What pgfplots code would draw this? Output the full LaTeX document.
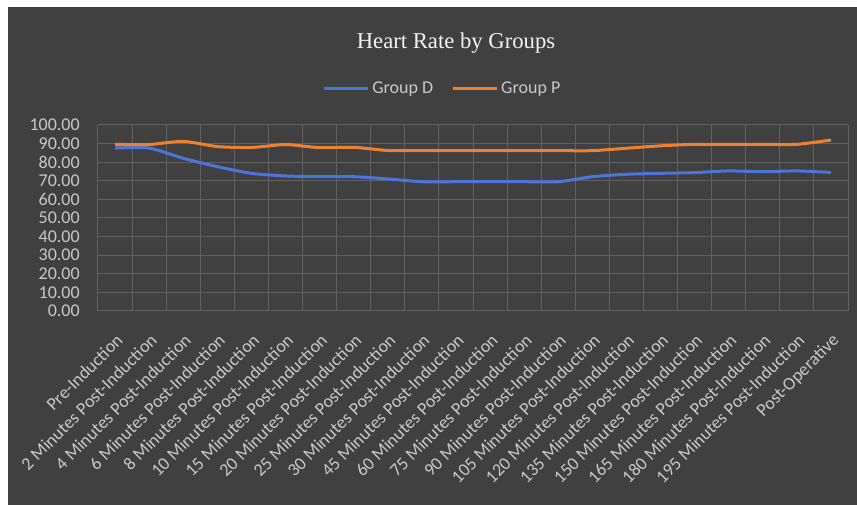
\documentclass[border=0pt]{standalone}
\usepackage{pgfplots}
\pgfplotsset{compat=1.18}
\usepackage{fontspec}
\setmainfont{Carlito}
\newfontfamily\titlefont{Liberation Serif}
\definecolor{bg}{HTML}{404040}
\definecolor{gridc}{HTML}{626262}
\definecolor{lbl}{HTML}{C8C8C8}
\definecolor{dblue}{HTML}{4D74DC}
\definecolor{porange}{HTML}{EF8030}
\begin{document}
\begin{tikzpicture}
\fill[white] (-73.5pt,-145.5pt) rectangle (569.25pt,233.25pt);
\fill[bg] (-67.5pt,-145.5pt) rectangle (569.25pt,228pt);
\begin{axis}[
  at={(0pt,0pt)}, anchor=south west,
  scale only axis, width=562.5pt, height=139.5pt,
  xmin=-0.5, xmax=21.5, ymin=0, ymax=100,
  xtick={0,...,21},
  xticklabels={Pre-Induction,2 Minutes Post-Induction,4 Minutes Post-Induction,6 Minutes Post-Induction,8 Minutes Post-Induction,10 Minutes Post-Induction,15 Minutes Post-Induction,20 Minutes Post-Induction,25 Minutes Post-Induction,30 Minutes Post-Induction,45 Minutes Post-Induction,60 Minutes Post-Induction,75 Minutes Post-Induction,90 Minutes Post-Induction,105 Minutes Post-Induction,120 Minutes Post-Induction,135 Minutes Post-Induction,150 Minutes Post-Induction,165 Minutes Post-Induction,180 Minutes Post-Induction,195 Minutes Post-Induction,Post-Operative},
  minor xtick={-0.5,0.5,...,21.5},
  ytick={0,10,...,100},
  xminorgrids=true, xmajorgrids=false, ymajorgrids=true,
  grid style={gridc, line width=0.75pt},
  minor grid style={gridc, line width=0.75pt},
  axis line style={draw=none},
  tick style={draw=none},
  major tick length=0pt, minor tick length=0pt,
  xticklabel style={rotate=45, anchor=north east, inner sep=0pt, font=\fontsize{13.5}{14}\selectfont, text=lbl},
  xticklabel shift=16pt,
  yticklabel style={anchor=east, inner sep=0pt, font=\fontsize{13.5}{14}\selectfont, text=lbl},
  yticklabel shift=13.5pt,
  /pgf/number format/fixed,
  /pgf/number format/fixed zerofill,
  /pgf/number format/precision=2,
  /pgf/number format/assume math mode=true,
  legend style={at={(axis description cs:0.46,1.195)}, anchor=center, draw=none, fill=none, text=lbl, font=\fontsize{13.5}{14}\selectfont, legend columns=-1, /tikz/every even column/.append style={column sep=12pt}},
  legend image code/.code={\draw[#1, line width=2pt] (0pt,0pt) -- (33pt,0pt);},
]
\addplot[dblue, line width=2.25pt, smooth, tension=0.4] coordinates {
(0,87.6) (1,87.6) (2,82.1) (3,77.6) (4,74.0) (5,72.6) (6,72.2) (7,72.2) (8,71.0) (9,69.5) (10,69.5) (11,69.5) (12,69.5) (13,69.5) (14,72.2) (15,73.5) (16,74.0) (17,74.4) (18,75.3) (19,74.9) (20,75.3) (21,74.5)};
\addlegendentry{Group D}
\addplot[porange, line width=2.25pt, smooth, tension=0.4] coordinates {
(0,89.6) (1,89.5) (2,91.2) (3,88.4) (4,87.9) (5,89.5) (6,87.8) (7,88.0) (8,86.3) (9,86.2) (10,86.2) (11,86.2) (12,86.2) (13,86.2) (14,86.2) (15,87.5) (16,88.8) (17,89.6) (18,89.6) (19,89.6) (20,89.6) (21,91.9)};
\addlegendentry{Group P}
\end{axis}
\node[font=\titlefont\fontsize{17}{19}\selectfont, text=white!95!black] at (268.5pt,201pt) {Heart Rate by Groups};
\end{tikzpicture}
\end{document}
